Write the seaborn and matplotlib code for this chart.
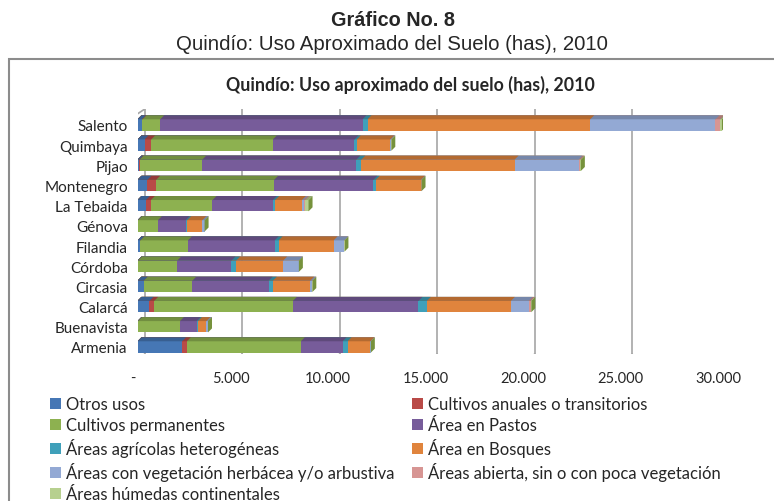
import numpy as np
import pandas as pd
import matplotlib
matplotlib.use("Agg")
import matplotlib.pyplot as plt
import matplotlib.transforms as mtransforms
import matplotlib.colors as mcolors
import seaborn as sns
from matplotlib.patches import Rectangle, Patch, Polygon
from matplotlib.lines import Line2D

# datos (hectareas)
municipios = ["Salento", "Quimbaya", "Pijao", "Montenegro", "La Tebaida", "Génova",
              "Filandia", "Córdoba", "Circasia", "Calarcá", "Buenavista", "Armenia"]
usos = ["Otros usos", "Cultivos anuales o transitorios", "Cultivos permanentes",
        "Área en Pastos", "Áreas agrícolas heterogéneas", "Área en Bosques",
        "Áreas con vegetación herbácea y/o arbustiva",
        "Áreas abierta, sin o con poca vegetación", "Áreas húmedas continentales"]

otros_usos = [225, 360, 85, 510, 430, 20, 140, 20, 310, 615, 20, 2290]
cultivos_anuales = [30, 340, 20, 445, 256, 0, 0, 0, 0, 240, 0, 240]
cultivos_permanentes = [910, 6240, 3215, 6050, 3160, 1025, 2445, 2015, 2495, 7110, 2155, 5845]
area_pastos = [10375, 4185, 7900, 5090, 3095, 1420, 4445, 2785, 3915, 6445, 855, 2140]
areas_heterogeneas = [256, 120, 256, 120, 120, 85, 205, 240, 220, 427, 70, 256]
area_bosques = [11420, 1710, 7860, 2310, 1370, 770, 2820, 2410, 1915, 4310, 430, 1165]
vegetacion_herbacea = [6425, 50, 3280, 30, 85, 120, 547, 805, 100, 905, 85, 20]
areas_abiertas = [240, 10, 100, 10, 85, 0, 10, 0, 10, 120, 0, 10]
areas_humedas = [90, 0, 20, 0, 170, 0, 0, 0, 0, 20, 0, 0]

colores = ["#4677B5", "#B94A47", "#8DB150", "#775C9A", "#3FA0BA",
           "#E0843D", "#93A9D4", "#D79593", "#B7D08F"]

ticks = [0, 5000, 10000, 15000, 20000, 25000, 30000]
tick_labels = ["-", "5.000", "10.000", "15.000", "20.000", "25.000", "30.000"]

series = [otros_usos, cultivos_anuales, cultivos_permanentes, area_pastos,
          areas_heterogeneas, area_bosques, vegetacion_herbacea, areas_abiertas,
          areas_humedas]

df = pd.DataFrame(dict(zip(usos, series)), index=municipios)
acumulado = df.cumsum(axis=1)

sns.set_style("white")
plt.rcParams["font.family"] = ["Lato", "DejaVu Sans"]

fig = plt.figure(figsize=(7.74, 5.02), dpi=100)
ax = fig.add_axes([137.5 / 774, 1 - 355 / 502, 585 / 774, 245 / 502])

# apilado: se dibuja el acumulado de mayor a menor
capas = []
for k, i in enumerate(range(len(usos) - 1, -1, -1)):
    n0 = len(ax.patches)
    sns.barplot(x=acumulado[usos[i]].values, y=municipios, orient="h",
                color=colores[i], width=0.56, saturation=1, ax=ax)
    capas.append((i, list(ax.patches)[n0:]))

ax.set_xlim(0, 30000)
ax.set_ylim(11.35, -0.79)
ax.set_xticks(ticks)
ax.set_xticklabels(tick_labels, fontsize=10.5)
ax.tick_params(axis="y", labelsize=11, pad=7, length=0)
ax.tick_params(axis="x", pad=12.5, length=0)
ax.set_xlabel("")
ax.set_ylabel("")
sns.despine(ax=ax, left=True, bottom=True)

# efecto 3D: rotulos adelante, rejilla al fondo
prof_x, prof_y = 4, 4        # profundidad de las barras (px)
fondo_x, fondo_y = 7.3, 8    # desplazamiento de la pared del fondo (px)
desp_rot = mtransforms.ScaledTranslation(-0.045, 0, fig.dpi_scale_trans)
for lab in ax.get_xticklabels():
    lab.set_transform(lab.get_transform() + desp_rot)
desp_rej = mtransforms.ScaledTranslation(fondo_x / 100, 0, fig.dpi_scale_trans)
gris = "#A6A6A6"
y_piso = ax.transAxes.transform((0, 0))[1]
for t in ticks:
    linea = ax.axvline(t, color=gris, lw=1.2, zorder=1)
    linea.set_transform(linea.get_transform() + desp_rej)
    xb = ax.transData.transform((t, 0))[0] + fondo_x
    ax.add_artist(Line2D([xb, xb - 12], [y_piso, y_piso - fondo_y],
                         transform=None, color=gris, lw=1.2, zorder=1))

# pared izquierda
x0b = ax.transData.transform((0, 0))[0] + fondo_x
y_tope = ax.transAxes.transform((0, 1))[1]
ax.add_artist(Line2D([x0b, x0b - 12, x0b - 12],
                     [y_tope, y_tope - fondo_y, y_piso - fondo_y],
                     transform=None, color=gris, lw=1.2, zorder=1))

def oscuro(c, f=0.8):
    r, g, b = mcolors.to_rgb(c)
    return (r * f, g * f, b * f)

for k, (i, barras) in enumerate(capas):
    z = 3 + 0.1 * k
    for b in barras:
        b.set_zorder(z)
        b.set_edgecolor("none")
        (xa, ya), (xc, yc) = ax.transData.transform(
            [(b.get_x(), b.get_y()), (b.get_x() + b.get_width(), b.get_y() + b.get_height())])
        ysup, yinf = max(ya, yc), min(ya, yc)
        tapa = Polygon([(xa, ysup), (xc, ysup), (xc + prof_x, ysup + prof_y),
                        (xa + prof_x, ysup + prof_y)], closed=True,
                       facecolor=oscuro(colores[i], 0.8), edgecolor="none",
                       transform=None, zorder=z + 0.05)
        ax.add_artist(tapa)
        if k == 0:
            lado = Polygon([(xc, yinf), (xc, ysup), (xc + prof_x, ysup + prof_y),
                            (xc + prof_x, yinf + prof_y)], closed=True,
                           facecolor="#76923C", edgecolor="none",
                           transform=None, zorder=10)
            ax.add_artist(lado)

# marco del grafico
fig.patches.append(Rectangle((9 / 774, -0.05), 1.0, 1 - 60 / 502 + 0.05,
                             transform=fig.transFigure, fill=False,
                             edgecolor="#8C8C8C", lw=1.5))

fig.text(393 / 774, 1 - 20 / 502, "Gráfico No. 8", ha="center", va="center",
         fontsize=14.3, fontweight="bold",
         family=["Liberation Sans Narrow", "Liberation Sans"])
fig.text(392 / 774, 1 - 45 / 502, "Quindío: Uso Aproximado del Suelo (has), 2010",
         ha="center", va="center", fontsize=14.7,
         family=["Liberation Sans Narrow", "Liberation Sans"])
fig.text(410 / 774, 1 - 85 / 502, "Quindío: Uso aproximado del suelo (has), 2010",
         ha="center", va="center", fontsize=12.8, fontweight="bold")

# leyenda en dos columnas, cada una por separado
handles = [Patch(facecolor=c, edgecolor="none") for c in colores]
estilo_leyenda = dict(loc="upper left", frameon=False, fontsize=12,
                      handlelength=0.66, handleheight=0.66, handletextpad=0.3,
                      labelspacing=0.3, borderpad=0, borderaxespad=0)
col1 = [0, 2, 4, 6, 8]
col2 = [1, 3, 5, 7]
fig.legend([handles[i] for i in col1], [usos[i] for i in col1],
           bbox_to_anchor=(50 / 774, 1 - 397 / 502), **estilo_leyenda)
fig.legend([handles[i] for i in col2], [usos[i] for i in col2],
           bbox_to_anchor=(412 / 774, 1 - 397 / 502), **estilo_leyenda)

fig.savefig("out.png", dpi=100)
